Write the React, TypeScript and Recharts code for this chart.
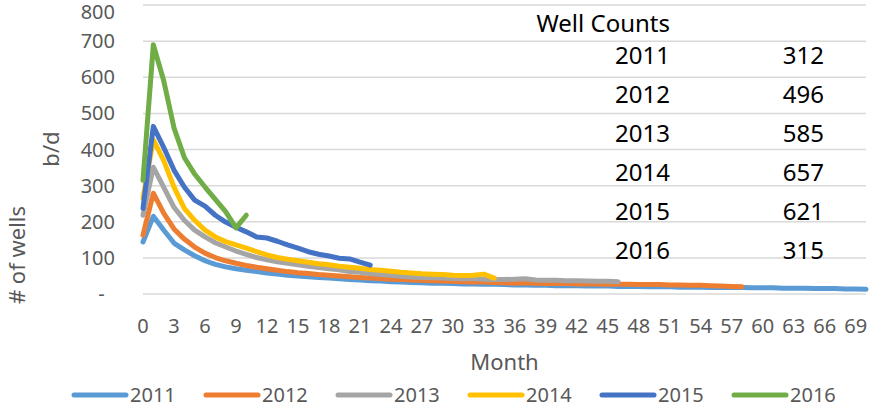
import React from 'react'
import { LineChart, Line, XAxis, YAxis, CartesianGrid, Legend } from 'recharts'

// month index on the category axis
const months = [
  0, 1, 2, 3, 4, 5, 6, 7, 8, 9, 10, 11, 12, 13, 14, 15, 16, 17, 18, 19, 20,
  21, 22, 23, 24, 25, 26, 27, 28, 29, 30, 31, 32, 33, 34, 35, 36, 37, 38, 39, 40,
  41, 42, 43, 44, 45, 46, 47, 48, 49, 50, 51, 52, 53, 54, 55, 56, 57, 58, 59, 60,
  61, 62, 63, 64, 65, 66, 67, 68, 69, 70,
]

// b/d per month since first production, one list per vintage
const y2011 = [
  144, 215, 177, 141, 122, 106, 92, 82, 75, 70, 66, 62, 58, 55, 52, 50, 48, 46, 44, 42, 40,
  39, 37, 36, 34, 33, 32, 31, 30, 30, 29, 28, 28, 27, 27, 26, 25, 25, 24, 24, 23,
  23, 23, 22, 22, 22, 21, 21, 21, 20, 20, 20, 19, 19, 19, 18, 18, 18, 18, 17, 17,
  17, 16, 16, 16, 15, 15, 15, 14, 14, 13,
]
const y2012 = [
  163, 279, 224, 180, 152, 130, 113, 101, 92, 85, 79, 74, 70, 66, 62, 59, 57, 54, 52, 50, 48,
  46, 44, 43, 41, 40, 39, 38, 37, 36, 35, 34, 33, 33, 32, 31, 30, 31, 30, 29, 29,
  29, 28, 28, 28, 27, 27, 27, 26, 26, 26, 25, 25, 24, 24, 23, 22, 21, 20,
]
const y2013 = [
  218, 351, 296, 240, 204, 177, 158, 142, 130, 119, 110, 101, 95, 89, 85, 81, 77, 73, 70, 67, 62,
  60, 57, 54, 52, 49, 47, 46, 45, 44, 43, 42, 42, 41, 40, 40, 41, 42, 39, 38, 38,
  37, 37, 36, 35, 35, 34,
]
const y2014 = [
  265, 427, 370, 296, 237, 204, 177, 158, 145, 136, 127, 117, 108, 101, 96, 92, 88, 84, 81, 77, 74,
  71, 68, 66, 63, 60, 58, 56, 55, 54, 52, 51, 52, 55, 44,
]
const y2015 = [
  237, 464, 406, 343, 296, 260, 243, 218, 199, 185, 172, 158, 155, 146, 136, 127, 117, 110, 105, 99, 97,
  88, 80,
]
const y2016 = [315, 690, 591, 460, 378, 332, 296, 262, 228, 183, 218]

const yTicks = [0, 100, 200, 300, 400, 500, 600, 700, 800]

const wellYears = ['2011', '2012', '2013', '2014', '2015', '2016']
const wellCounts = [312, 496, 585, 657, 621, 315]

const seriesDefs = [
  { key: 's2011', name: '2011', color: '#5B9BD5', values: y2011 },
  { key: 's2012', name: '2012', color: '#ED7D31', values: y2012 },
  { key: 's2013', name: '2013', color: '#A5A5A5', values: y2013 },
  { key: 's2014', name: '2014', color: '#FFC000', values: y2014 },
  { key: 's2015', name: '2015', color: '#4472C4', values: y2015 },
  { key: 's2016', name: '2016', color: '#70AD47', values: y2016 },
]

const data = months.map((m, i) => {
  const row: any = { month: m }
  seriesDefs.forEach((s) => {
    if (i < s.values.length) row[s.key] = s.values[i]
  })
  return row
})

const FONT = '"Noto Sans", sans-serif'
const GREY = '#595959'

const LegendRow = () => (
  <div style={{ display: 'flex', paddingLeft: 70, height: 30, alignItems: 'center', fontFamily: FONT }}>
    {seriesDefs.map((s) => (
      <div key={s.key} style={{ display: 'flex', alignItems: 'center', width: 132 }}>
        <svg width={60} height={10}>
          <line x1={4} y1={5} x2={56} y2={5} stroke={s.color} strokeWidth={5} strokeLinecap="round" />
        </svg>
        <span style={{ fontSize: 20, color: GREY, lineHeight: '30px' }}>{s.name}</span>
      </div>
    ))}
  </div>
)

const AxisTitles = () => (
  <g fontFamily={FONT} fontSize={22} fill={GREY}>
    <text x={50} y={149} textAnchor="middle" dominantBaseline="central" transform="rotate(-90 50 149)">b/d</text>
    <text x={16} y={255} textAnchor="middle" dominantBaseline="central" transform="rotate(-90 16 255)"># of wells</text>
  </g>
)

export default function App() {
  return (
    <div style={{ position: 'absolute', left: 0, top: 0, width: 874, height: 412, background: '#fff' }}>
      <LineChart width={874} height={412} data={data} margin={{ top: 5, right: 8, left: 0, bottom: 2 }}>
        <CartesianGrid vertical={false} stroke="#d9d9d9" strokeWidth={1.5} />
        <XAxis
          dataKey="month"
          interval={2}
          height={86}
          axisLine={false}
          tickLine={false}
          tickMargin={19}
          tick={{ fill: GREY, fontSize: 20, fontFamily: FONT }}
          label={{ value: 'Month', position: 'insideBottom', offset: 10, fill: GREY, fontSize: 22, fontFamily: FONT }}
        />
        <YAxis
          width={143}
          domain={[0, 800]}
          ticks={yTicks}
          axisLine={false}
          tickLine={false}
          tickMargin={22}
          tick={{ fill: GREY, fontSize: 20, fontFamily: FONT }}
          tickFormatter={(v: number) => (v === 0 ? '-\u00a0\u00a0' : String(v))}
          label={{ content: () => <AxisTitles /> }}
        />
        <Legend verticalAlign="bottom" height={30} content={() => <LegendRow />} />
        {seriesDefs.map((s) => (
          <Line
            key={s.key}
            dataKey={s.key}
            name={s.name}
            stroke={s.color}
            strokeWidth={5}
            strokeLinecap="round"
            strokeLinejoin="round"
            dot={false}
            activeDot={false}
            isAnimationActive={false}
          />
        ))}
      </LineChart>
      <div style={{ position: 'absolute', left: 0, top: 0, fontFamily: FONT, fontSize: 24, color: '#000' }}>
        <div style={{ position: 'absolute', left: 470, width: 200, top: 23 - 17, lineHeight: '34px', textAlign: 'right', whiteSpace: 'nowrap' }}>
          Well Counts
        </div>
        {wellYears.map((yr, i) => (
          <React.Fragment key={yr}>
            <div style={{ position: 'absolute', left: 570, width: 100, top: 55 + 39 * i - 17, lineHeight: '34px', textAlign: 'right' }}>
              {yr}
            </div>
            <div style={{ position: 'absolute', left: 724, width: 100, top: 55 + 39 * i - 17, lineHeight: '34px', textAlign: 'right' }}>
              {wellCounts[i]}
            </div>
          </React.Fragment>
        ))}
      </div>
    </div>
  )
}
